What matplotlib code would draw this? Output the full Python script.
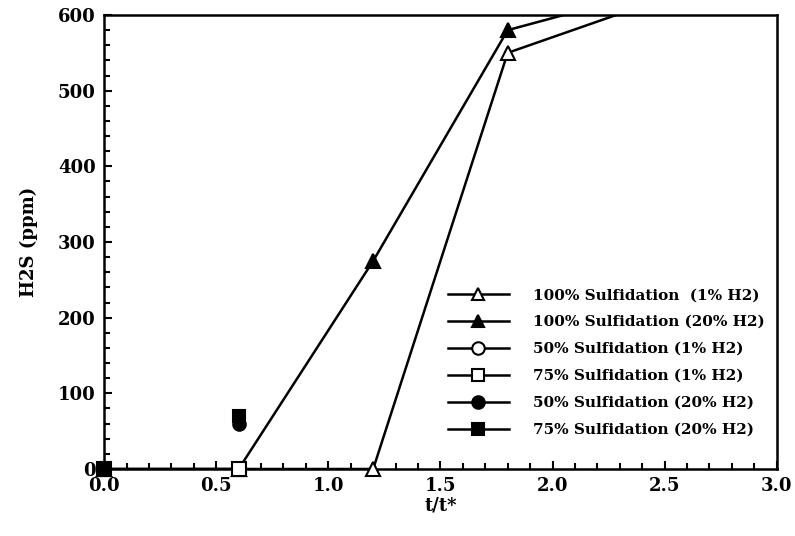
import matplotlib
matplotlib.use("Agg")
import matplotlib.pyplot as plt
from matplotlib.lines import Line2D
from matplotlib.ticker import MultipleLocator

plt.rcParams.update({
    "font.family": "DejaVu Serif",
    "font.weight": "bold",
    "font.size": 13,
})

# H2S breakthrough vs normalised time t/t*
t_100_1 = [0.0, 0.6, 1.2, 1.8, 2.4]
h2s_100_1 = [0, 0, 0, 550, 612]
t_100_20 = [0.0, 0.6, 1.2, 1.8, 2.4]
h2s_100_20 = [0, 0, 275, 580, 628]
t_50_1 = [0.0]
h2s_50_1 = [0]
t_75_1 = [0.0, 0.6]
h2s_75_1 = [0, 0]
t_50_20 = [0.0, 0.6]
h2s_50_20 = [0, 60]
t_75_20 = [0.0, 0.6]
h2s_75_20 = [0, 70]

labels = [
    "100% Sulfidation  (1% H2)",
    "100% Sulfidation (20% H2)",
    "50% Sulfidation (1% H2)",
    "75% Sulfidation (1% H2)",
    "50% Sulfidation (20% H2)",
    "75% Sulfidation (20% H2)",
]

YMAX = 600
lw = 1.8

fig = plt.figure(figsize=(7.95, 5.36), dpi=100)
ax = fig.add_axes([0.131, 0.125, 0.846, 0.847])


def draw(t, y, marker, face, ms, z, line=True):
    # line is clipped to the axes, markers sitting on the axis are drawn whole
    if line:
        ax.plot(t, y, color="black", lw=lw, zorder=z)
    pts = [(a, b) for a, b in zip(t, y) if b <= YMAX]
    ax.plot([p[0] for p in pts], [p[1] for p in pts], ls="none",
            marker=marker, ms=ms, mfc=face, mec="black", mew=1.5,
            zorder=z + 0.5, clip_on=False)


draw(t_100_1, h2s_100_1, "^", "white", 10, 3)
draw(t_100_20, h2s_100_20, "^", "black", 10, 3)
draw(t_50_1, h2s_50_1, "o", "white", 9, 4, line=False)
draw(t_75_1, h2s_75_1, "s", "white", 10, 5, line=False)
draw(t_50_20, h2s_50_20, "o", "black", 9, 6, line=False)
draw(t_75_20, h2s_75_20, "s", "black", 8, 7, line=False)

styles = [("^", "white"), ("^", "black"), ("o", "white"),
          ("s", "white"), ("o", "black"), ("s", "black")]
handles = [Line2D([], [], color="black", lw=lw, marker=m, ms=9, mfc=fc,
                  mec="black", mew=1.5) for m, fc in styles]
ax.legend(handles, labels, loc="lower right", bbox_to_anchor=(1.003, 0.04),
          frameon=False, fontsize=11, handlelength=4.0, labelspacing=0.85,
          handletextpad=1.6)

ax.set_xlim(0, 3.0)
ax.set_ylim(0, YMAX)
ax.xaxis.set_major_locator(MultipleLocator(0.5))
ax.xaxis.set_minor_locator(MultipleLocator(0.1))
ax.yaxis.set_major_locator(MultipleLocator(100))
ax.yaxis.set_minor_locator(MultipleLocator(20))
ax.xaxis.set_major_formatter(plt.FuncFormatter(lambda v, p: f"{v:.1f}"))
ax.tick_params(which="both", direction="in", width=1.5,
               top=False, right=False)
ax.tick_params(which="major", length=6, labelsize=13, pad=6)
ax.tick_params(which="minor", length=4)
for s in ax.spines.values():
    s.set_linewidth(1.8)

ax.set_xlabel("t/t*", fontsize=13, fontweight="bold", labelpad=1)
ax.set_ylabel("H2S (ppm)", fontsize=13, fontweight="bold", labelpad=14)

fig.savefig("out.png", dpi=100)
